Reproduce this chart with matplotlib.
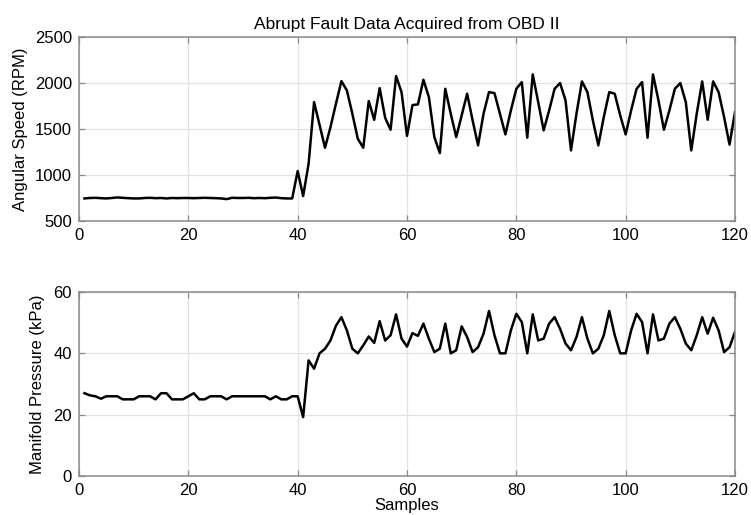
import numpy as np
import matplotlib
matplotlib.use("Agg")
import matplotlib.pyplot as plt

plt.rcParams['font.family'] = ['Liberation Sans', 'DejaVu Sans']

samples = list(range(1, 121))

rpm = [745, 750, 752, 748, 745, 750, 756, 752, 748, 745,
       745, 750, 752, 748, 750, 745, 750, 748, 750, 750,
       748, 750, 752, 750, 748, 745, 738, 752, 750, 750,
       752, 748, 750, 748, 752, 755, 748, 745, 745, 1043,
       771, 1123, 1792, 1546, 1296, 1520, 1774, 2020, 1919, 1666,
       1394, 1296, 1803, 1600, 1944, 1622, 1492, 2075, 1900, 1425,
       1760, 1767, 2035, 1847, 1412, 1238, 1937, 1666, 1412, 1648,
       1883, 1593, 1322, 1666, 1901, 1890, 1666, 1441, 1702, 1937,
       2009, 1405, 2093, 1792, 1485, 1702, 1937, 1999, 1810, 1267,
       1666, 2017, 1901, 1593, 1322, 1630, 1901, 1883, 1648, 1441,
       1702, 1937, 2009, 1405, 2093, 1810, 1492, 1702, 1937, 1999,
       1792, 1267, 1666, 2017, 1600, 2017, 1901, 1630, 1330, 1684]

pressure = [27, 26.3, 26, 25.2, 26, 26, 26, 25, 25, 25,
            26, 26, 26, 25, 27, 27, 25, 25, 25, 26,
            27, 25, 25, 26, 26, 26, 25, 26, 26, 26,
            26, 26, 26, 26, 25, 26, 25, 25, 26, 26,
            19.2, 37.7, 35, 40, 41.5, 44.2, 49, 51.8, 47.5, 41.5,
            40, 42.6, 45.5, 43.4, 50.5, 44.2, 45.9, 52.7, 44.8, 42.2,
            46.6, 45.7, 49.7, 44.8, 40.4, 41.5, 49.7, 40, 41, 48.8,
            45.3, 40.4, 42, 46.4, 53.8, 45.9, 40, 40, 47.5, 52.9,
            50.2, 40, 52.7, 44.2, 44.8, 49.7, 51.8, 48, 43.2, 41,
            45.3, 51.8, 44.8, 40, 41.5, 45.9, 53.8, 45.9, 40, 40,
            47.5, 52.9, 50.2, 40, 52.7, 44.2, 44.8, 49.7, 51.8, 48,
            43.2, 41, 45.9, 51.8, 46.4, 51.6, 47.5, 40.4, 42, 47]

fig = plt.figure(figsize=(7.51, 5.15), dpi=100)
ax1 = fig.add_axes([0.1052, 0.5709, 0.8735, 0.3573])
ax2 = fig.add_axes([0.1052, 0.0757, 0.8735, 0.3573])

spine_col = '#8a8a8a'
for ax in (ax1, ax2):
    for s in ax.spines.values():
        s.set_color(spine_col)
        s.set_linewidth(1.1)
    ax.tick_params(direction='in', length=4, width=0.9, color=spine_col,
                   top=True, right=True, labelsize=12, pad=5)
    ax.grid(True, color='#e2e2e2', linewidth=0.9, linestyle='-')
    ax.set_axisbelow(True)
    ax.set_xlim(0, 120)
    ax.set_xticks([0, 20, 40, 60, 80, 100, 120])

ax1.plot(samples, rpm, color='black', linewidth=1.8)
ax1.set_ylim(500, 2500)
ax1.set_yticks([500, 1000, 1500, 2000, 2500])
ax1.set_ylabel('Angular Speed (RPM)', fontsize=12, labelpad=5)
ax1.set_title('Abrupt Fault Data Acquired from OBD II', fontsize=12.5, pad=6)

ax2.plot(samples, pressure, color='black', linewidth=1.8)
ax2.set_ylim(0, 60)
ax2.set_yticks([0, 20, 40, 60])
ax2.set_ylabel('Manifold Pressure (kPa)', fontsize=12, labelpad=6)
ax2.set_xlabel('Samples', fontsize=12, labelpad=0)

fig.savefig('out.png', dpi=100)
